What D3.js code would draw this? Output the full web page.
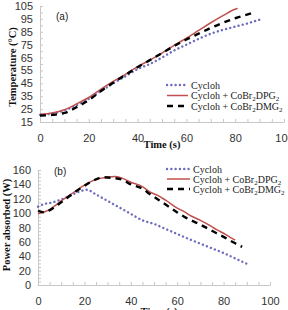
<!DOCTYPE html>
<html>
<head>
<meta charset="utf-8">
<script src="https://cdn.jsdelivr.net/npm/d3@7"></script>
<style>
  body { margin: 0; background: #fff; }
  .tick text { font-family: "Liberation Sans", Arial, sans-serif; font-size: 11px; fill: #333; }
  .axis path, .axis line { stroke: #c8c8c8; }
  .title { font-family: "Liberation Serif", "Times New Roman", serif; font-weight: bold; font-size: 10.5px; fill: #111; }
  .legend text { font-family: "Liberation Serif", "Times New Roman", serif; font-size: 10px; fill: #222; }
  .tag { font-family: "Liberation Sans", Arial, sans-serif; font-size: 10px; fill: #222; }
</style>
</head>
<body>
<svg id="chart" width="288" height="310"></svg>
<script>
// panel (a): temperature vs time, [t, T]
var tempCycloh = [[0,20.5],[5,21.5],[10,24],[15,28],[20,33],[25,39],[30,45],[35,50.5],[40,56],[45,60],
    [50,65],[55,70.5],[60,75],[65,79.5],[70,83.5],[75,86.5],[80,89],[85,91.5],[91,95]];
var tempDPG = [[0,21],[5,22],[10,24.5],[15,29],[20,34],[25,40.5],[30,46.5],[35,52],[40,58],[45,63],
    [50,68.5],[55,74.5],[60,80],[65,86],[70,92],[75,97.5],[80,102.5],[81,103]];
var tempDMG = [[0,20],[5,20.5],[10,22],[15,26.5],[20,32],[25,39],[30,45.5],[35,51.5],[40,57.5],[45,63],
    [50,68.5],[55,74],[60,79],[65,83.5],[70,88],[75,92],[80,95.5],[87,99.5]];

// panel (b): power absorbed vs time, [t, P]
var powCycloh = [[0,109],[3,113],[5,114],[10,119],[15,126],[20,132],[21,132.5],[25,126],[30,117],[35,108],
    [40,99],[45,90],[50,85],[55,78],[60,71],[65,64],[70,57.5],[75,51],[80,44.5],[85,37],[91,28]];
var powDPG = [[0,99],[5,105],[10,117],[15,128],[20,139],[25,147],[30,150],[33,151],[36,149],[40,143],
    [45,137],[48,130],[52,124],[55,118],[60,107],[63,102],[66,96],[70,90],[74,83],[77,77],[80,72],[83,66],[85,62.5]];
var powDMG = [[0,103],[3,101],[5,104],[10,115],[15,127],[20,138],[25,147],[28,150],[32,149],[36,147],
    [40,140],[45,134],[48,127],[55,112],[60,101],[63,95],[70,84],[77,72],[80,67],[85,58],[88,53]];

var seriesNames = ["Cycloh", "Cycloh + CoBr|2|DPG|2", "Cycloh + CoBr|2|DMG|2"];
var xTicks = [0, 20, 40, 60, 80, 100];
var tempTicks = [15, 25, 35, 45, 55, 65, 75, 85, 95, 105];
var powTicks = [0, 20, 40, 60, 80, 100, 120, 140, 160];

var styles = [
    {stroke: "#6d6dbd", width: 2.4, dash: "0.1,4.2", cap: "round"},
    {stroke: "#c0504d", width: 1.5, dash: null, cap: "butt"},
    {stroke: "#000", width: 2.4, dash: "6,5", cap: "butt"}
];

var svg = d3.select("#chart");

function drawPanel(p) {
    var x = d3.scaleLinear().domain([0, 100]).range([p.left, p.right]);
    var y = d3.scaleLinear().domain(p.yDomain).range([p.bottom, p.top]);
    var g = svg.append("g");

    // minor ticks
    g.append("g").attr("class", "axis")
        .attr("transform", "translate(0," + p.bottom + ")")
        .call(d3.axisBottom(x).tickValues(d3.range(0, 101, 5)).tickSize(-3).tickFormat(""))
        .select(".domain").remove();
    g.append("g").attr("class", "axis")
        .attr("transform", "translate(" + p.left + ",0)")
        .call(d3.axisLeft(y).tickValues(d3.range(p.yDomain[0], p.yDomain[1] + 0.1, p.yMinor)).tickSize(-3).tickFormat(""))
        .select(".domain").remove();

    // major axes
    g.append("g").attr("class", "axis")
        .attr("transform", "translate(0," + p.bottom + ")")
        .call(d3.axisBottom(x).tickValues(xTicks).tickSize(0).tickPadding(12));
    g.append("g").attr("class", "axis")
        .attr("transform", "translate(" + p.left + ",0)")
        .call(d3.axisLeft(y).tickValues(p.yTicks).tickSize(0).tickPadding(7));

    var line = d3.line().x(d => x(d[0])).y(d => y(d[1])).curve(d3.curveMonotoneX);
    p.data.forEach(function(s, i) {
        var st = styles[i];
        g.append("path").datum(s)
            .attr("fill", "none")
            .attr("stroke", st.stroke)
            .attr("stroke-width", st.width)
            .attr("stroke-dasharray", st.dash)
            .attr("stroke-linecap", st.cap)
            .attr("d", line);
    });

    g.append("text").attr("class", "tag").attr("x", p.tag[0]).attr("y", p.tag[1]).text(p.tagText);

    g.append("text").attr("class", "title")
        .attr("text-anchor", "middle")
        .attr("x", p.xTitle[0]).attr("y", p.xTitle[1])
        .text("Time (s)");
    g.append("text").attr("class", "title")
        .attr("text-anchor", "middle")
        .attr("transform", "translate(" + p.yTitle[0] + "," + p.yTitle[1] + ") rotate(-90)")
        .text(p.yLabel);

    // legend
    var lg = g.append("g").attr("class", "legend");
    seriesNames.forEach(function(name, i) {
        var st = styles[i];
        var yy = p.legend[1] + i * p.legendGap;
        lg.append("line")
            .attr("x1", p.legend[0]).attr("x2", p.legend[0] + p.legendLen)
            .attr("y1", yy).attr("y2", yy)
            .attr("stroke", st.stroke)
            .attr("stroke-width", st.width)
            .attr("stroke-dasharray", st.dash)
            .attr("stroke-linecap", st.cap);
        var t = lg.append("text").attr("x", p.legend[0] + p.legendLen + 3).attr("y", yy + 3.5);
        name.split("|").forEach(function(part, k) {
            var sub = k % 2 === 1;
            t.append("tspan")
                .attr("font-size", sub ? "7px" : null)
                .attr("dy", k === 0 ? 0 : (sub ? 2 : -2))
                .text(part);
        });
    });
}

drawPanel({
    left: 40, right: 284, top: 6, bottom: 122,
    yDomain: [15, 105], yTicks: tempTicks, yMinor: 5,
    data: [tempCycloh, tempDPG, tempDMG],
    tag: [56, 20], tagText: "(a)",
    xTitle: [162, 148], yTitle: [16, 67], yLabel: "Temperature (°C)",
    legend: [167, 85], legendGap: 10.5, legendLen: 21
});

drawPanel({
    left: 38, right: 270, top: 170, bottom: 285,
    yDomain: [0, 160], yTicks: powTicks, yMinor: 5,
    data: [powCycloh, powDPG, powDMG],
    tag: [54, 175], tagText: "(b)",
    xTitle: [159, 315], yTitle: [10, 225], yLabel: "Power absorbed (W)",
    legend: [167, 169], legendGap: 10, legendLen: 23
});
</script>
</body>
</html>
